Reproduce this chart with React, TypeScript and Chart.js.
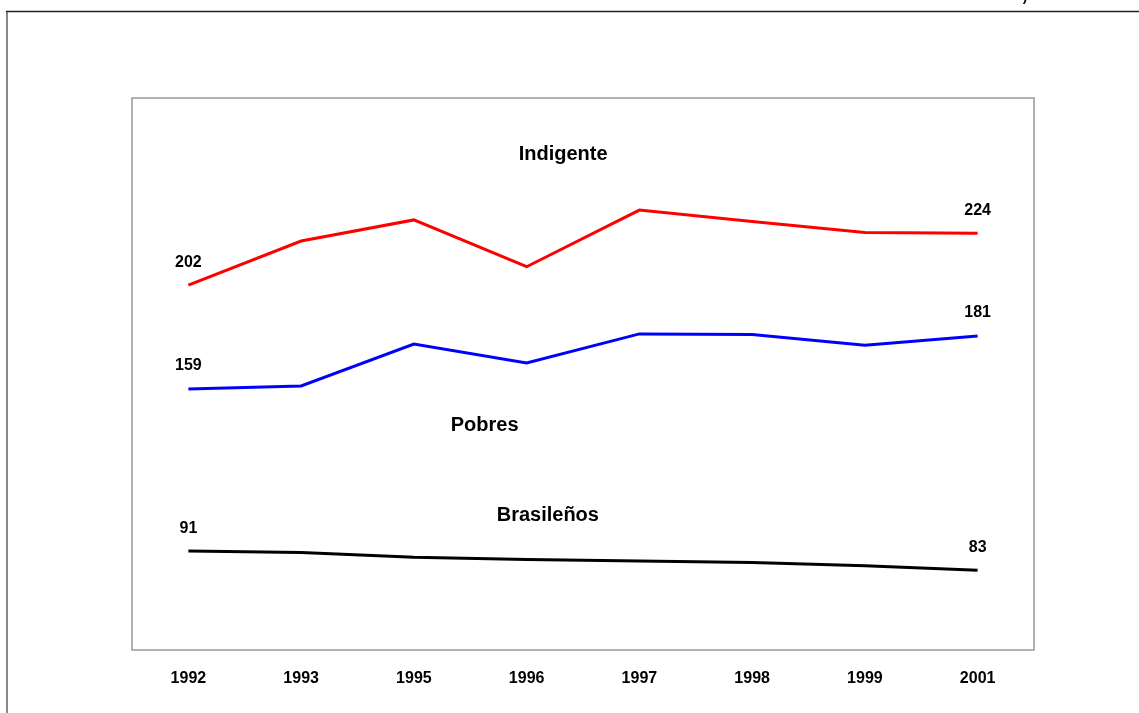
import React, { useEffect, useRef } from "react";
import { Chart, registerables } from "chart.js";

Chart.register(...registerables);

const years = ["1992", "1993", "1995", "1996", "1997", "1998", "1999", "2001"];
const indigente = [202, 220.4, 229.2, 209.7, 233.3, 228.5, 224.0, 223.6];
const pobres = [158.8, 160, 177.5, 169.6, 181.7, 181.5, 177, 180.8];
const brasilenos = [91.2, 90.6, 88.6, 87.7, 87.1, 86.5, 85.1, 83.2];

const endLabels = [
  { series: 0, first: "202", last: "224" },
  { series: 1, first: "159", last: "181" },
  { series: 2, first: "91", last: "83" },
];

const seriesNames = [
  { text: "Indigente", fx: 0.478, fy: 0.103 },
  { text: "Pobres", fx: 0.391, fy: 0.593 },
  { text: "Brasileños", fx: 0.461, fy: 0.757 },
];

const W = 1139;
const H = 713;

const decorPlugin = {
  id: "decor",
  beforeDraw(chart: any) {
    const ctx = chart.ctx;
    const a = chart.chartArea;
    ctx.save();
    ctx.strokeStyle = "#888888";
    ctx.lineWidth = 2;
    ctx.beginPath();
    ctx.moveTo(7, 12);
    ctx.lineTo(7, H);
    ctx.stroke();
    ctx.strokeStyle = "#222222";
    ctx.lineWidth = 1.5;
    ctx.beginPath();
    ctx.moveTo(6, 11.5);
    ctx.lineTo(W, 11.5);
    ctx.stroke();
    ctx.fillStyle = "#000";
    ctx.font = "bold 14px Arial, 'Liberation Sans', sans-serif";
    ctx.textAlign = "center";
    ctx.textBaseline = "alphabetic";
    ctx.fillText(")", 1025, 1);
    ctx.strokeStyle = "#999999";
    ctx.lineWidth = 1.5;
    ctx.strokeRect(a.left, a.top, a.right - a.left, a.bottom - a.top);
    ctx.restore();
  },
  afterDatasetsDraw(chart: any) {
    const ctx = chart.ctx;
    const a = chart.chartArea;
    const xs = chart.scales.x;
    const ys = chart.scales.y;
    ctx.save();
    ctx.fillStyle = "#000";
    ctx.textAlign = "center";
    ctx.textBaseline = "middle";
    ctx.font = "bold 16px Arial, 'Liberation Sans', sans-serif";
    const n = years.length;
    endLabels.forEach((l) => {
      const d = chart.data.datasets[l.series].data as number[];
      ctx.fillText(l.first, xs.getPixelForValue(0), ys.getPixelForValue(d[0]) - 23);
      ctx.fillText(l.last, xs.getPixelForValue(n - 1), ys.getPixelForValue(d[n - 1]) - 23);
    });
    ctx.font = "bold 20px Arial, 'Liberation Sans', sans-serif";
    seriesNames.forEach((s) => {
      ctx.fillText(
        s.text,
        a.left + s.fx * (a.right - a.left),
        a.top + s.fy * (a.bottom - a.top)
      );
    });
    ctx.restore();
  },
};

export default function App() {
  const ref = useRef<HTMLCanvasElement>(null);
  useEffect(() => {
    if (!ref.current) return;
    const chart = new Chart(ref.current, {
      type: "line",
      data: {
        labels: years,
        datasets: [
          { data: indigente, borderColor: "#FF0000", borderWidth: 3 },
          { data: pobres, borderColor: "#0000FF", borderWidth: 3 },
          { data: brasilenos, borderColor: "#000000", borderWidth: 3 },
        ].map((d) => ({ ...d, pointRadius: 0, tension: 0, fill: false })),
      },
      options: {
        responsive: false,
        animation: false,
        layout: { padding: { left: 132, right: 105, top: 98, bottom: 0 } },
        plugins: { legend: { display: false }, tooltip: { enabled: false } },
        scales: {
          x: {
            type: "category",
            offset: true,
            grid: { display: false, drawTicks: false },
            border: { display: false },
            ticks: {
              color: "#000",
              padding: 19,
              maxRotation: 0,
              font: { family: "Arial, 'Liberation Sans', sans-serif", size: 16, weight: "bold" },
            },
            afterFit: (scale: any) => {
              scale.height = 63;
            },
          },
          y: {
            display: false,
            min: 50,
            max: 280,
          },
        },
      },
      plugins: [decorPlugin],
    });
    return () => chart.destroy();
  }, []);
  return (
    <div style={{ position: "fixed", left: 0, top: 0, width: W, height: H, background: "#fff" }}>
      <canvas ref={ref} width={W} height={H} style={{ width: W, height: H, display: "block" }} />
    </div>
  );
}
